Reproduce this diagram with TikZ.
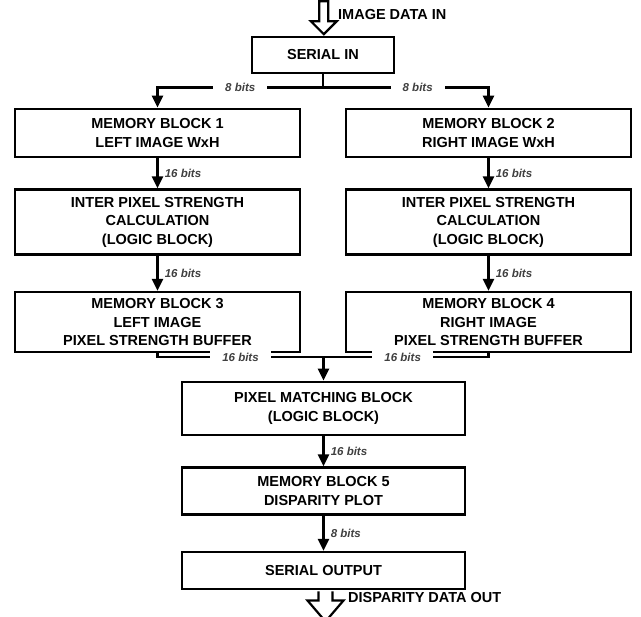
\documentclass[tikz,border=0pt]{standalone}
\usepackage{fontspec}
\setmainfont{Liberation Sans}
\usepackage{tikz}
\usetikzlibrary{arrows.meta,positioning}

\begin{document}
\begin{tikzpicture}[
  x=1pt, y=1pt,
  box/.style={draw,line width=2.6pt,align=center,inner sep=2pt,minimum width=285pt,font=\bfseries\fontsize{14.5}{18.5}\selectfont},
  midbox/.style={box,minimum width=283pt},
  bits/.style={font=\bfseries\itshape\fontsize{11.5}{13}\selectfont,text=black!75,inner sep=2pt},
  gap/.style={bits,fill=white,inner xsep=12pt},
  line/.style={line width=2.6pt},
  arr/.style={line,-{Triangle[length=12pt,width=11pt]}},
  hollow/.style={line width=2.2pt,line join=miter},
]
\useasboundingbox (0,0) rectangle (641,-617);

\node[box,minimum width=142pt,minimum height=36pt] (serin) at (323,-55) {SERIAL IN};
\node[box,minimum height=48pt] (mb1) at (157.5,-133) {MEMORY BLOCK 1\\LEFT IMAGE WxH};
\node[box,minimum height=48pt] (mb2) at (488.5,-133) {MEMORY BLOCK 2\\RIGHT IMAGE WxH};
\node[box,minimum height=65pt,below=30pt of mb1] (ips1) {INTER PIXEL STRENGTH\\CALCULATION\\(LOGIC BLOCK)};
\node[box,minimum height=65pt,below=30pt of mb2] (ips2) {INTER PIXEL STRENGTH\\CALCULATION\\(LOGIC BLOCK)};
\node[box,minimum height=60pt,below=35pt of ips1] (mb3) {MEMORY BLOCK 3\\LEFT IMAGE\\PIXEL STRENGTH BUFFER};
\node[box,minimum height=60pt,below=35pt of ips2] (mb4) {MEMORY BLOCK 4\\RIGHT IMAGE\\PIXEL STRENGTH BUFFER};
\node[midbox,minimum height=53pt] (pmb) at (323.5,-408.5) {PIXEL MATCHING BLOCK\\(LOGIC BLOCK)};
\node[midbox,minimum height=47pt,below=30pt of pmb] (mb5) {MEMORY BLOCK 5\\DISPARITY PLOT};
\node[midbox,minimum height=37pt,below=35pt of mb5] (sout) {SERIAL OUTPUT};

\node[anchor=west,inner sep=0pt,font=\bfseries\fontsize{14.5}{17}\selectfont] (datain) at (338,-15) {IMAGE DATA IN};
\node[anchor=west,inner sep=0pt,font=\bfseries\fontsize{14.5}{17}\selectfont] (dataout) at (348,-598) {DISPARITY DATA OUT};

% hollow in / out arrows
\draw[hollow] ([xshift=0.8pt,yshift=1.5pt]serin.north) -- ++(-13,13) -- ++(8.5,0) -- ++(0,20)
  -- ++(9,0) -- ++(0,-20) -- ++(8.5,0) -- cycle;
\draw[hollow] ([xshift=-5pt,yshift=-1pt]sout.south) -- ++(0,-9) -- ++(-11,0) -- ++(18,-21)
  -- ++(18,21) -- ++(-11,0) -- ++(0,9);

% serial in split
\coordinate (split) at ([yshift=-13pt]serin.south);
\draw[line] (serin.south) -- (split);
\draw[arr] (split) -| node[gap,pos=0.25] {8 bits} (mb1.north);
\draw[arr] (split) -| node[gap,pos=0.286] {8 bits} (mb2.north);

\draw[arr] (mb1) -- node[bits,right=4pt] {16 bits} (ips1);
\draw[arr] (mb2) -- node[bits,right=4pt] {16 bits} (ips2);
\draw[arr] (ips1) -- node[bits,right=4pt] {16 bits} (mb3);
\draw[arr] (ips2) -- node[bits,right=4pt] {16 bits} (mb4);

% merge into matching block
\coordinate (merge) at (pmb.north |- 0,-357);
\draw[line] (mb3.south) |- node[gap,pos=0.75] {16 bits} (merge);
\draw[line] (mb4.south) |- node[gap,pos=0.76] {16 bits} (merge);
\draw[arr] (merge) -- (pmb);

\draw[arr] (pmb) -- node[bits,right=4pt] {16 bits} (mb5);
\draw[arr] (mb5) -- node[bits,right=4pt] {8 bits} (sout);
\end{tikzpicture}
\end{document}
